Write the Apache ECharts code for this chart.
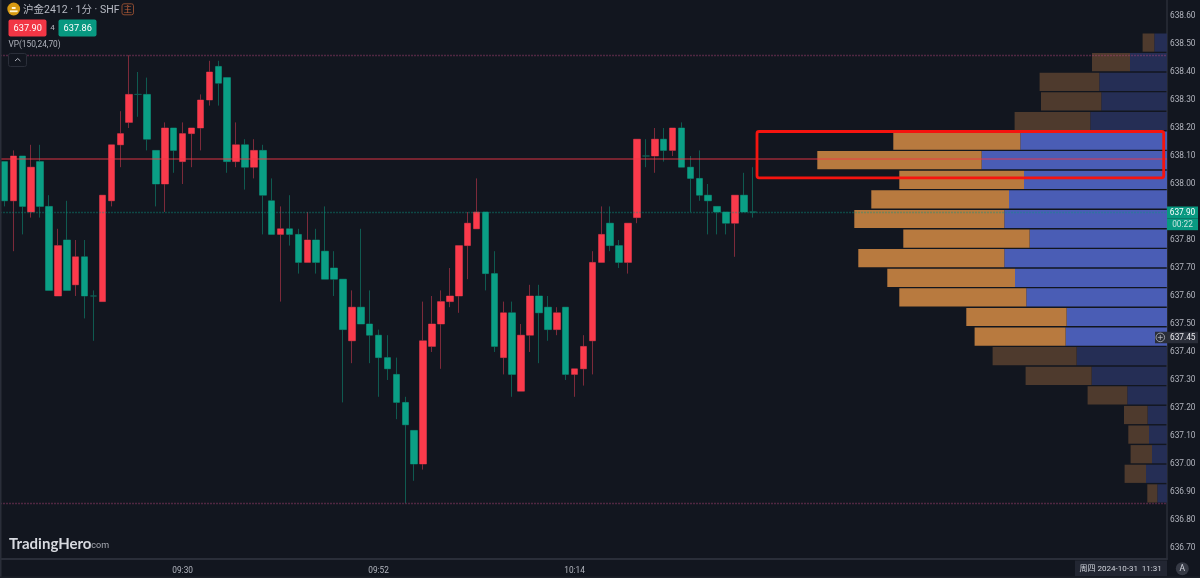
<!DOCTYPE html>
<html>
<head>
<meta charset="utf-8">
<title>沪金2412</title>
<script src="https://cdn.jsdelivr.net/npm/echarts@6/dist/echarts.min.js"></script>
<style>
  html, body { margin: 0; padding: 0; background: #12161f; }
  #chart { width: 1200px; height: 578px; }
</style>
</head>
<body>
<div id="chart"></div>
<script>
// one minute bars, only 85 are filled, the rest is empty room for the profile
const times = [
  '09:10','09:11','09:12','09:13','09:14','09:15','09:16','09:17','09:18','09:19',
  '09:20','09:21','09:22','09:23','09:24','09:25','09:26','09:27','09:28','09:29',
  '09:30','09:31','09:32','09:33','09:34','09:35','09:36','09:37','09:38','09:39',
  '09:40','09:41','09:42','09:43','09:44','09:45','09:46','09:47','09:48','09:49',
  '09:50','09:51','09:52','09:53','09:54','09:55','09:56','09:57','09:58','09:59',
  '10:00','10:01','10:02','10:03','10:04','10:05','10:06','10:07','10:08','10:09',
  '10:10','10:11','10:12','10:13','10:14','10:15','10:16','10:17','10:18','10:19',
  '10:20','10:21','10:22','10:23','10:24','10:25','10:26','10:27','10:28','10:29',
  '10:30','10:31','10:32','10:33','10:34','10:35','10:36','10:37','10:38','10:39',
  '10:40','10:41','10:42','10:43','10:44','10:45','10:46','10:47','10:48','10:49',
  '10:50','10:51','10:52','10:53','10:54','10:55','10:56','10:57','10:58','10:59',
  '11:00','11:01','11:02','11:03','11:04','11:05','11:06','11:07','11:08','11:09',
  '11:10','11:11','11:12','11:13','11:14','11:15','11:16','11:17','11:18','11:19','11:20'
];
const timeLabels = ['09:30', '09:52', '10:14'];
const priceTicks = [638.6, 638.5, 638.4, 638.3, 638.2, 638.1, 638.0, 637.9, 637.8, 637.7, 637.6,
  637.5, 637.4, 637.3, 637.2, 637.1, 637.0, 636.9, 636.8, 636.7];

const opens = [
  638.08,637.94,638.10,637.90,638.08,637.92,637.60,637.80,637.64,637.74,
  637.60,637.58,637.94,638.14,638.22,638.32,638.32,638.12,638.00,638.20,
  638.08,638.18,638.20,638.30,638.42,638.38,638.08,638.14,638.06,638.12,
  637.94,637.82,637.84,637.82,637.72,637.80,637.76,637.70,637.66,637.44,
  637.56,637.50,637.46,637.38,637.32,637.22,637.12,637.00,637.42,637.50,
  637.58,637.60,637.78,637.84,637.90,637.68,637.38,637.54,637.26,637.46,
  637.60,637.56,637.48,637.56,637.32,637.34,637.44,637.72,637.86,637.78,
  637.72,637.88,638.10,638.10,638.16,638.12,638.20,638.06,638.02,637.96,
  637.92,637.90,637.86,637.96,637.90
];
const closes = [
  637.94,638.10,637.92,638.06,637.92,637.62,637.78,637.62,637.74,637.60,
  637.60,637.96,638.14,638.18,638.32,638.32,638.16,638.00,638.20,638.12,
  638.18,638.20,638.30,638.40,638.36,638.08,638.14,638.06,638.12,637.96,
  637.82,637.84,637.82,637.72,637.80,637.72,637.66,637.66,637.48,637.56,
  637.50,637.46,637.38,637.34,637.22,637.14,637.00,637.44,637.50,637.58,
  637.60,637.78,637.86,637.90,637.68,637.42,637.54,637.32,637.46,637.60,
  637.54,637.48,637.54,637.32,637.34,637.42,637.72,637.82,637.78,637.72,
  637.86,638.16,638.10,638.16,638.12,638.20,638.06,638.02,637.96,637.94,
  637.90,637.86,637.96,637.90,637.90
];
const lows = [
  637.92,637.76,637.82,637.88,637.88,637.62,637.60,637.62,637.60,637.52,
  637.44,637.58,637.92,638.06,638.20,638.24,638.12,637.92,637.90,638.04,
  638.00,638.06,638.12,638.28,638.28,638.04,638.06,637.98,638.02,637.82,
  637.82,637.58,637.78,637.68,637.72,637.68,637.66,637.60,637.22,637.36,
  637.50,637.36,637.24,637.30,637.16,636.86,636.94,636.98,637.40,637.34,
  637.56,637.54,637.66,637.84,637.62,637.40,637.32,637.24,637.26,637.40,
  637.36,637.44,637.46,637.30,637.24,637.28,637.32,637.72,637.76,637.70,
  637.68,637.86,638.06,638.04,638.08,638.10,638.06,637.90,637.94,637.82,
  637.82,637.82,637.74,637.90,637.88
];
const highs = [
  638.08,638.12,638.10,638.14,638.14,637.96,637.84,637.94,637.80,637.80,
  637.62,637.96,638.14,638.26,638.46,638.40,638.38,638.12,638.22,638.20,
  638.22,638.20,638.32,638.44,638.44,638.38,638.22,638.16,638.16,638.14,
  638.02,637.92,637.96,637.84,637.90,637.84,637.92,637.76,637.66,637.62,
  637.84,637.62,637.48,637.46,637.38,637.24,637.12,637.58,637.60,637.62,
  637.70,637.78,637.90,638.02,637.90,637.76,637.58,637.58,637.50,637.64,
  637.64,637.60,637.56,637.56,637.34,637.46,637.76,637.92,637.92,637.80,
  637.86,638.16,638.16,638.20,638.20,638.20,638.22,638.10,638.12,638.00,
  637.92,637.90,637.96,638.04,638.06
];

// volume profile rows, top to bottom (row floor prices)
const vpRows = ['638.47','638.40','638.33','638.26','638.19','638.12','638.05','637.98','637.91','637.84','637.77','637.70',
  '637.63','637.56','637.49','637.42','637.35','637.28','637.21','637.14','637.07','637.00','636.93','636.86'];
const vpBlue = [12.7,37,67.7,65.7,76.7,146.7,185.4,143,158,162.7,137.4,162.7,152,140.7,100.4,101.4,90.4,75.4,39.7,19.4,18,15,21,9.7];
const vpOrange = [11.7,38,59.7,60.3,75.7,127,164.3,124.7,137.7,150,126.3,146,127.7,127,100.3,91,84,66,39.7,23.6,20.7,21.4,21.4,10];
const valueAreaFirst = 5, valueAreaLast = 15;

const priceHigh = 638.46, priceLow = 636.86, pocPrice = 638.086, lastPrice = 637.90;

const FONT = 'Roboto, "Noto Sans CJK SC", sans-serif';
const TXT = '#b2b5be';
const PANEL = '#2a2e39';

const wickData = opens.map((o, i) => [o, closes[i], lows[i], highs[i]]);
// bodies go on a second layer, the wick colour is much darker than the body
const bodyData = opens.map((o, i) => [o, closes[i], Math.min(o, closes[i]), Math.max(o, closes[i])]);

const inValueArea = i => i >= valueAreaFirst && i <= valueAreaLast;

// empty series that only carries one full width level line
const levelLine = (price, color, type, width) => ({
  type: 'line', data: [], z: 3, silent: true,
  markLine: {
    silent: true, symbol: 'none', animation: false, label: { show: false },
    lineStyle: { color, type, width },
    emphasis: { disabled: true },
    data: [{ yAxis: price }]
  }
});

const chart = echarts.init(document.getElementById('chart'), null, { renderer: 'canvas' });

const label = (x, y, text, extra) => ({
  type: 'text', z: 30, x, y,
  style: Object.assign({ text, fill: TXT, font: `8.3px ${FONT}`, textVerticalAlign: 'middle' }, extra)
});

chart.setOption({
  animation: false,
  backgroundColor: '#12161f',
  grid: [
    { left: 0, top: 0, width: 1167, height: 559, show: false },
    { left: 767, top: 32.8, width: 400, height: 470.4, show: false }
  ],
  xAxis: [
    {
      type: 'category', data: times, gridIndex: 0,
      axisLine: { show: true, lineStyle: { color: PANEL, width: 2 } },
      axisTick: { show: false }, splitLine: { show: false },
      axisLabel: {
        color: TXT, fontSize: 8.3, fontFamily: FONT, margin: 7.5,
        interval: (i, v) => timeLabels.includes(v)
      }
    },
    { type: 'value', gridIndex: 1, inverse: true, min: 0, max: 400, show: false }
  ],
  yAxis: [
    {
      type: 'value', gridIndex: 0, position: 'right', scale: true,
      min: 636.66071, max: 638.65714,
      axisLine: { show: true, onZero: false, lineStyle: { color: PANEL, width: 1.5 } },
      axisTick: { show: false }, splitLine: { show: false },
      axisLabel: {
        color: TXT, fontSize: 8.3, fontFamily: FONT, margin: 3, padding: [2, 0, 0, 0],
        customValues: priceTicks, formatter: v => v.toFixed(2)
      }
    },
    { type: 'category', gridIndex: 1, inverse: true, data: vpRows, show: false }
  ],
  series: [
    {
      name: 'vpBlue', type: 'bar', xAxisIndex: 1, yAxisIndex: 1, stack: 'vp', barWidth: 18.2, z: 2,
      data: vpBlue,
      itemStyle: { color: p => inValueArea(p.dataIndex) ? '#4a5db5' : '#252e55' }
    },
    {
      name: 'vpOrange', type: 'bar', xAxisIndex: 1, yAxisIndex: 1, stack: 'vp', barWidth: 18.2, z: 2,
      data: vpOrange,
      itemStyle: { color: p => inValueArea(p.dataIndex) ? '#b87a3f' : '#4e3a2d' }
    },
    levelLine(pocPrice, 'rgba(242,54,69,0.45)', 'solid', 2),
    levelLine(lastPrice, 'rgba(8,153,129,0.38)', [2, 1], 1.4),
    levelLine(priceHigh, 'rgba(190,70,130,0.36)', [2, 1], 1.3),
    levelLine(priceLow, 'rgba(190,70,130,0.36)', [2, 1], 1.3),
    {
      name: 'wicks', type: 'candlestick', barWidth: 7, z: 3,
      data: wickData,
      itemStyle: {
        color: '#7c2a3a', color0: '#0f5a50',
        borderColor: '#7c2a3a', borderColor0: '#0f5a50', borderColorDoji: '#0f5a50', borderWidth: 1
      }
    },
    {
      name: 'bodies', type: 'candlestick', barWidth: 7, z: 4,
      data: bodyData,
      itemStyle: {
        color: '#fb3a4b', color0: '#0a9f85',
        borderColor: '#fb3a4b', borderColor0: '#0a9f85', borderColorDoji: 'transparent', borderWidth: 0
      }
    }
  ],
  graphic: [
    // left edge and bottom edge of the pane
    { type: 'rect', z: 20, shape: { x: 0, y: 0, width: 1.5, height: 578 }, style: { fill: PANEL } },
    { type: 'rect', z: 20, shape: { x: 0, y: 576.5, width: 1200, height: 1.5 }, style: { fill: '#1c2029' } },

    // header
    { type: 'circle', z: 30, shape: { cx: 13.7, cy: 9, r: 6.4 }, style: { fill: '#d79a12' } },
    { type: 'rect', z: 31, shape: { x: 9.8, y: 10.4, width: 7.8, height: 1.8 }, style: { fill: '#fff3d0' } },
    { type: 'rect', z: 31, shape: { x: 11.8, y: 7, width: 3.8, height: 2 }, style: { fill: '#fff3d0' } },
    label(23, 10, '沪金2412 · 1分 · SHF', { font: `10.5px ${FONT}`, fill: '#b8bbc4' }),
    { type: 'rect', z: 30, shape: { x: 122, y: 3.8, width: 11.5, height: 11, r: 2 }, style: { fill: 'transparent', stroke: '#8a4a30', lineWidth: 1 } },
    label(127.8, 9.5, '主', { font: `8.5px ${FONT}`, fill: '#c0603a', textAlign: 'center' }),
    { type: 'rect', z: 30, shape: { x: 8.5, y: 19.5, width: 38, height: 17, r: 2 }, style: { fill: '#f23645' } },
    label(27.7, 28.3, '637.90', { font: `9.2px ${FONT}`, fill: '#ffffff', textAlign: 'center' }),
    label(52.5, 28.3, '4', { font: `8px ${FONT}`, textAlign: 'center' }),
    { type: 'rect', z: 30, shape: { x: 58.5, y: 19.5, width: 38, height: 17, r: 2 }, style: { fill: '#089981' } },
    label(77.7, 28.3, '637.86', { font: `9.2px ${FONT}`, fill: '#ffffff', textAlign: 'center' }),
    label(8.5, 45.3, 'VP(150,24,70)', { font: `8.3px ${FONT}` }),
    { type: 'rect', z: 30, shape: { x: 8.5, y: 53.5, width: 18, height: 13, r: 2 }, style: { fill: '#12161f', stroke: PANEL, lineWidth: 1 } },
    { type: 'polyline', z: 31, shape: { points: [[15, 61], [17.7, 58.5], [20.4, 61]] }, style: { fill: 'none', stroke: TXT, lineWidth: 1 } },

    // annotation box around the heaviest rows
    { type: 'rect', z: 25, shape: { x: 757, y: 131.5, width: 406.7, height: 46.3, r: 2 }, style: { fill: 'transparent', stroke: '#f5140f', lineWidth: 2.8 } },

    // price tags on the axis
    { type: 'rect', z: 30, shape: { x: 1167, y: 206.5, width: 31, height: 12 }, style: { fill: '#089981' } },
    label(1182.5, 212.7, '637.90', { fill: '#ffffff', textAlign: 'center' }),
    { type: 'rect', z: 30, shape: { x: 1167, y: 218.5, width: 31, height: 11.7 }, style: { fill: '#089981' } },
    label(1182.5, 224.5, '00:22', { fill: '#c8e6e0', textAlign: 'center' }),
    { type: 'rect', z: 30, shape: { x: 1155, y: 331.7, width: 43, height: 11.6 }, style: { fill: PANEL } },
    { type: 'circle', z: 31, shape: { cx: 1160.3, cy: 337.4, r: 4.3 }, style: { fill: 'transparent', stroke: TXT, lineWidth: 0.8 } },
    { type: 'polyline', z: 31, shape: { points: [[1157.8, 337.4], [1162.8, 337.4]] }, style: { stroke: TXT, lineWidth: 0.8 } },
    { type: 'polyline', z: 31, shape: { points: [[1160.3, 334.9], [1160.3, 339.9]] }, style: { stroke: TXT, lineWidth: 0.8 } },
    label(1170, 337.5, '637.45', { fill: '#e8e9ec' }),

    // crosshair date and the auto button
    { type: 'rect', z: 30, shape: { x: 1075, y: 560.5, width: 92, height: 15.5 }, style: { fill: '#222632' } },
    label(1079.5, 568.5, '周四 2024-10-31  11:31', { font: `8px ${FONT}`, fill: '#d1d4dc' }),
    { type: 'circle', z: 30, shape: { cx: 1182.3, cy: 568.7, r: 6.5 }, style: { fill: '#363a45' } },
    label(1182.3, 568.9, 'A', { font: `8.5px ${FONT}`, fill: '#d1d4dc', textAlign: 'center' }),

    // watermark
    label(9, 544.5, 'TradingHero', { font: `bold 15px Lato, ${FONT}`, fill: '#d8dae0' }),
    label(89, 546, '.com', { font: `9px ${FONT}`, fill: '#a8abb3' })
  ]
});
</script>
</body>
</html>
